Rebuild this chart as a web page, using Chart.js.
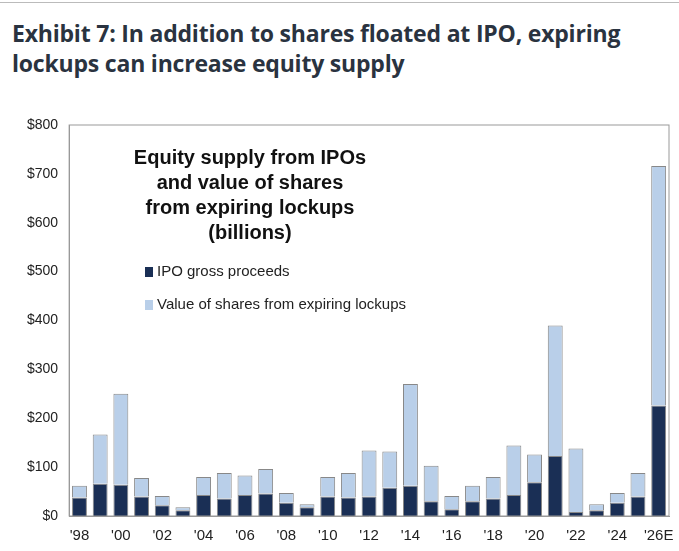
<!DOCTYPE html>
<html><head><meta charset="utf-8">
<script src="https://cdn.jsdelivr.net/npm/chart.js"></script>
<style>
body{margin:0;background:#fff;font-family:"Liberation Sans",Arial,sans-serif;width:679px;height:551px;overflow:hidden;position:relative}
#topline{position:absolute;left:0;right:0;top:2px;border-top:1px solid #bbb}
#title{position:absolute;left:12px;top:18px;font-family:"Open Sans",sans-serif;font-weight:700;font-size:23px;line-height:30px;color:#2a3340;letter-spacing:-0.2px}
#wrap{position:absolute;left:0;top:112px;width:679px;height:436px}
#inner{position:absolute;left:110px;top:145px;width:280px;text-align:center;font-weight:700;font-size:20px;line-height:25px;color:#111}
.lg{position:absolute;left:145px;font-size:15px;color:#222}
.sw{display:inline-block;width:8px;height:10px;margin-right:4px;vertical-align:-1px}
</style></head><body>
<div id="topline"></div>
<div id="title">Exhibit 7: In addition to shares floated at IPO, expiring<br>lockups can increase equity supply</div>
<div id="wrap"><canvas id="c"></canvas></div>
<div id="inner">Equity supply from IPOs<br>and value of shares<br>from expiring lockups<br>(billions)</div>
<div class="lg" style="top:262px"><span class="sw" style="background:#1a2f55"></span>IPO gross proceeds</div>
<div class="lg" style="top:295px"><span class="sw" style="background:#b9cfe9"></span>Value of shares from expiring lockups</div>
<script>
const years = ["'98","'99","'00","'01","'02","'03","'04","'05","'06","'07","'08","'09","'10","'11","'12","'13","'14","'15","'16","'17","'18","'19","'20","'21","'22","'23","'24","'25","'26E"];
const ipo = [38,66,64,40,22,12,43,36,43,46,27,18,40,38,40,58,62,30,14,30,36,43,69,123,8,12,27,40,226];
const total = [62,167,250,78,41,18,80,88,83,96,47,24,80,88,134,132,270,103,41,62,80,144,126,390,138,24,47,88,716];
const lockups = total.map((t, i) => t - ipo[i]);

new Chart(document.getElementById("c"), {
  type: "bar",
  data: {
    labels: years,
    datasets: [
      {label: "IPO gross proceeds", data: ipo, backgroundColor: "#1a2f55", borderColor: "#888", borderWidth: 1, categoryPercentage: 0.72, barPercentage: 1},
      {label: "Value of shares from expiring lockups", data: lockups, backgroundColor: "#b9cfe9", borderColor: "#888", borderWidth: 1, categoryPercentage: 0.72, barPercentage: 1}
    ]
  },
  options: {
    responsive: true, maintainAspectRatio: false, animation: false,
    layout: {padding: {right: 10, top: 13, left: 24}},
    plugins: {legend: {display: false}, tooltip: {enabled: false}},
    scales: {
      x: {stacked: true, grid: {display: false}, border: {color: "#999"},
          ticks: {color: "#222", font: {size: 15}, maxRotation: 0, autoSkip: false,
                  callback: (v, i) => i % 2 === 0 ? years[i] : ""}},
      y: {stacked: true, min: 0, max: 800, grid: {display: false}, border: {color: "#999"},
          ticks: {stepSize: 100, color: "#222", font: {size: 14}, callback: v => "$" + v}}
    }
  },
  plugins: [{
    id: "frame",
    afterDraw(ch) {
      const a = ch.chartArea, c = ch.ctx;
      c.save(); c.strokeStyle = "#999"; c.lineWidth = 1;
      c.strokeRect(a.left, a.top, a.right - a.left, a.bottom - a.top);
      c.restore();
    }
  }]
});
</script>
</body></html>
